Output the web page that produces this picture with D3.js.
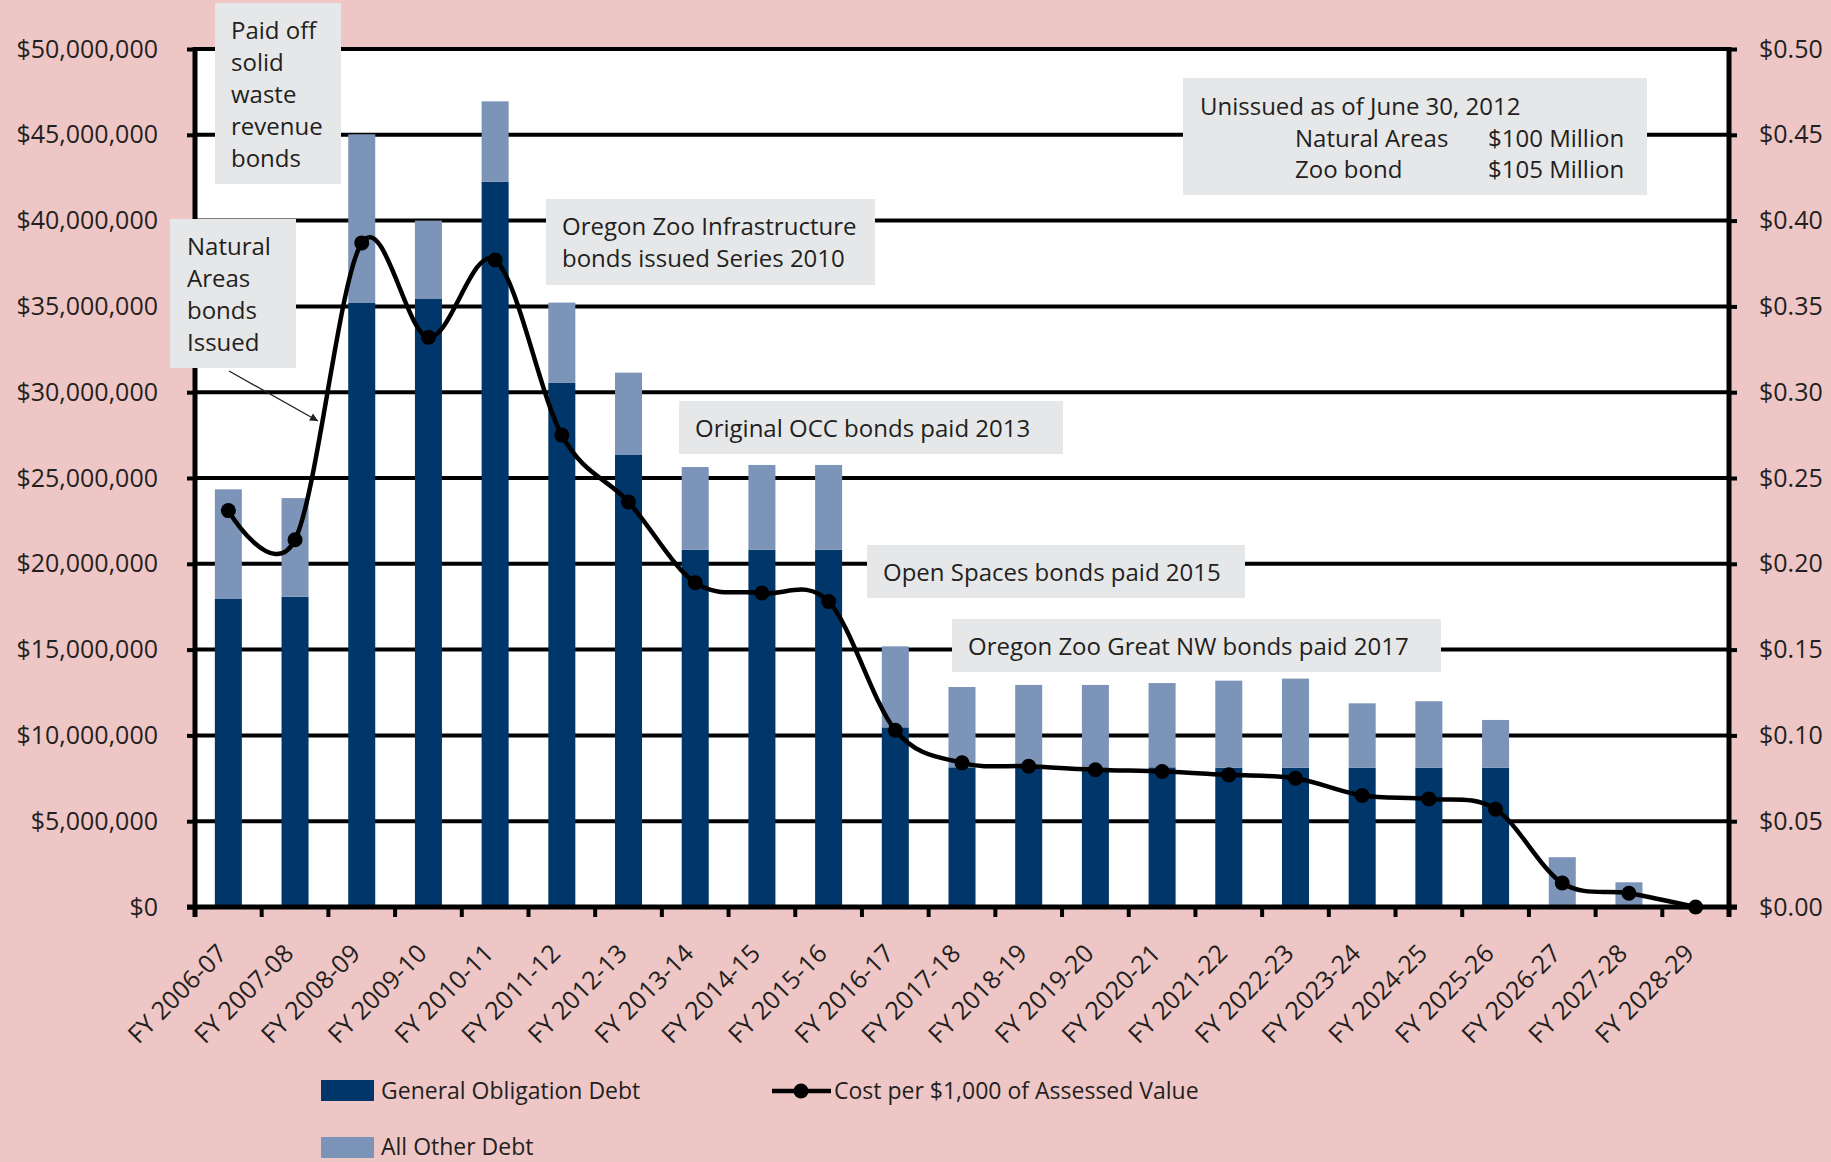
<!DOCTYPE html>
<html>
<head>
<meta charset="utf-8">
<script src="https://cdn.jsdelivr.net/npm/d3@7"></script>
<style>
  html, body { margin: 0; padding: 0; background: #EEC6C6; }
  svg { display: block; }
  text { font-family: "Open Sans", "Noto Sans", sans-serif; fill: #231F20; }
</style>
</head>
<body>
<svg id="chart" width="1831" height="1162"></svg>
<script>
// ---- data -------------------------------------------------------------
const categories = [
  "FY 2006-07", "FY 2007-08", "FY 2008-09", "FY 2009-10", "FY 2010-11",
  "FY 2011-12", "FY 2012-13", "FY 2013-14", "FY 2014-15", "FY 2015-16",
  "FY 2016-17", "FY 2017-18", "FY 2018-19", "FY 2019-20", "FY 2020-21",
  "FY 2021-22", "FY 2022-23", "FY 2023-24", "FY 2024-25", "FY 2025-26",
  "FY 2026-27", "FY 2027-28", "FY 2028-29"
];

// General obligation debt service, dollars
const generalObligation = [
  17950000, 18080000, 35200000, 35430000, 42270000,
  30540000, 26340000, 20820000, 20820000, 20820000,
  10470000, 8140000, 8140000, 8140000, 8140000,
  8120000, 8120000, 8120000, 8120000, 8120000,
  0, 0, 0
];

// All other debt service, dollars
const otherDebt = [
  6390000, 5750000, 9830000, 4570000, 4680000,
  4680000, 4800000, 4820000, 4940000, 4940000,
  4720000, 4680000, 4800000, 4800000, 4910000,
  5070000, 5190000, 3750000, 3870000, 2780000,
  2900000, 1440000, 0
];

// Cost per $1,000 of assessed value, dollars
const costPerThousand = [
  0.231, 0.214, 0.387, 0.332, 0.377,
  0.275, 0.236, 0.189, 0.183, 0.178,
  0.103, 0.084, 0.082, 0.080, 0.079,
  0.077, 0.075, 0.065, 0.063, 0.057,
  0.014, 0.008, 0.000
];

const leftTicks = [0, 5000000, 10000000, 15000000, 20000000, 25000000,
                   30000000, 35000000, 40000000, 45000000, 50000000];
const rightTicks = [0, 0.05, 0.10, 0.15, 0.20, 0.25, 0.30, 0.35, 0.40, 0.45, 0.50];

const seriesNames = ["General Obligation Debt", "All Other Debt",
                     "Cost per $1,000 of Assessed Value"];

const notes = [
  ["Paid off", "solid", "waste", "revenue", "bonds"],
  ["Natural", "Areas", "bonds", "Issued"],
  ["Oregon Zoo Infrastructure", "bonds issued Series 2010"],
  ["Original OCC bonds paid 2013"],
  ["Open Spaces bonds paid 2015"],
  ["Oregon Zoo Great NW bonds paid 2017"]
];
const unissued = {
  title: "Unissued as of June 30, 2012",
  rows: [["Natural Areas", "$100 Million"], ["Zoo bond", "$105 Million"]]
};

// ---- layout -----------------------------------------------------------
const W = 1831, H = 1162;
const margin = { top: 49, right: 102, bottom: 255, left: 195 };
const plotW = W - margin.left - margin.right;
const plotH = H - margin.top - margin.bottom;

const colors = { go: "#00366A", other: "#7C94B8", line: "#000000",
                 note: "#E6E7E9", plot: "#FFFFFF" };

const svg = d3.select("#chart");

const x = d3.scaleBand()
  .domain(categories)
  .range([0, plotW])
  .paddingInner(0.595)
  .paddingOuter(0.2975);

const y = d3.scaleLinear().domain([0, 50000000]).range([plotH, 0]);
const yR = d3.scaleLinear().domain([0, 0.5]).range([plotH, 0]);

const g = svg.append("g").attr("transform", `translate(${margin.left},${margin.top})`);

// plot background
g.append("rect").attr("x", 0).attr("y", 0).attr("width", plotW).attr("height", plotH)
  .attr("fill", colors.plot);

// horizontal gridlines
g.append("g").selectAll("line").data(leftTicks).join("line")
  .attr("x1", 0).attr("x2", plotW)
  .attr("y1", d => y(d)).attr("y2", d => y(d))
  .attr("stroke", "#000").attr("stroke-width", 4);

// stacked bars
const rows = categories.map((c, i) => ({ cat: c, go: generalObligation[i], other: otherDebt[i] }));
const stacked = d3.stack().keys(["go", "other"])(rows);
const barColor = { go: colors.go, other: colors.other };

g.append("g").selectAll("g").data(stacked).join("g")
  .attr("fill", d => barColor[d.key])
  .selectAll("rect").data(d => d).join("rect")
  .attr("x", d => x(d.data.cat))
  .attr("width", x.bandwidth())
  .attr("y", d => y(d[1]))
  .attr("height", d => y(d[0]) - y(d[1]));

// left axis
const leftAxis = d3.axisLeft(y).tickValues(leftTicks).tickSize(8).tickPadding(29)
  .tickFormat(d3.format("$,"));
const la = g.append("g").call(leftAxis);
la.select(".domain").remove();
la.selectAll(".tick line").attr("stroke", "#000").attr("stroke-width", 4);
la.selectAll(".tick text").attr("font-size", 25).attr("fill", "#231F20")
  .style("font-family", "\"Open Sans\", sans-serif");

// right axis
const rightAxis = d3.axisRight(yR).tickValues(rightTicks).tickSize(8).tickPadding(22)
  .tickFormat(d3.format("$.2f"));
const ra = g.append("g").attr("transform", `translate(${plotW},0)`).call(rightAxis);
ra.select(".domain").remove();
ra.selectAll(".tick line").attr("stroke", "#000").attr("stroke-width", 4);
ra.selectAll(".tick text").attr("font-size", 25).attr("fill", "#231F20")
  .style("font-family", "\"Open Sans\", sans-serif");

// vertical axis lines
g.append("line").attr("x1", 0).attr("x2", 0).attr("y1", -2).attr("y2", plotH + 10)
  .attr("stroke", "#000").attr("stroke-width", 5);
g.append("line").attr("x1", plotW).attr("x2", plotW).attr("y1", -2).attr("y2", plotH + 10)
  .attr("stroke", "#000").attr("stroke-width", 5);

// bottom axis with ticks between categories
g.append("line").attr("x1", -8).attr("x2", plotW + 8).attr("y1", plotH).attr("y2", plotH)
  .attr("stroke", "#000").attr("stroke-width", 5);
const boundaries = categories.map(c => x(c) - (x.step() - x.bandwidth()) / 2);
g.append("g").selectAll("line").data(boundaries).join("line")
  .attr("x1", d => d).attr("x2", d => d)
  .attr("y1", plotH).attr("y2", plotH + 10)
  .attr("stroke", "#000").attr("stroke-width", 4);

g.append("g").selectAll("text").data(categories).join("text")
  .attr("transform", c => `translate(${x(c) + x.bandwidth() / 2},${plotH + 48}) rotate(-45)`)
  .attr("text-anchor", "end")
  .attr("font-size", 25)
  .text(c => c);

// annotation boxes (drawn over gridlines and axis lines)
const noteLayout = [
  { box: [20, -46, 126, 181], tx: 36, base: -10, step: 32 },
  { box: [-25, 170, 126, 149], tx: -8, base: 206, step: 32 },
  { box: [351, 150, 329, 86], tx: 367, base: 186, step: 32 },
  { box: [484, 352, 384, 53], tx: 500, base: 388, step: 32 },
  { box: [672, 496, 378, 53], tx: 688, base: 532, step: 32 },
  { box: [757, 570, 489, 53], tx: 773, base: 606, step: 32 }
];

const noteG = g.append("g");
notes.forEach((lines, i) => {
  const L = noteLayout[i];
  noteG.append("rect")
    .attr("x", L.box[0]).attr("y", L.box[1])
    .attr("width", L.box[2]).attr("height", L.box[3])
    .attr("fill", colors.note);
  lines.forEach((t, j) => {
    noteG.append("text")
      .attr("x", L.tx).attr("y", L.base + j * L.step)
      .attr("font-size", 24).text(t);
  });
});

// unissued bonds box
const uG = g.append("g");
uG.append("rect").attr("x", 988).attr("y", 29).attr("width", 464).attr("height", 117)
  .attr("fill", colors.note);
uG.append("text").attr("x", 1005).attr("y", 66).attr("font-size", 24).text(unissued.title);
unissued.rows.forEach((r, j) => {
  uG.append("text").attr("x", 1100).attr("y", 98 + j * 31).attr("font-size", 24).text(r[0]);
  uG.append("text").attr("x", 1293).attr("y", 98 + j * 31).attr("font-size", 24).text(r[1]);
});

// arrow pointing at the Natural Areas issuance
const defs = svg.append("defs");
defs.append("marker").attr("id", "arrowhead")
  .attr("viewBox", "0 0 10 10").attr("refX", 10).attr("refY", 5)
  .attr("markerWidth", 10).attr("markerHeight", 8)
  .attr("markerUnits", "userSpaceOnUse")
  .attr("orient", "auto")
  .append("path").attr("d", "M0,0 L10,5 L0,10 Z").attr("fill", "#231F20");
g.append("line")
  .attr("x1", 34).attr("y1", 322).attr("x2", 123).attr("y2", 372)
  .attr("stroke", "#231F20").attr("stroke-width", 1.3)
  .attr("marker-end", "url(#arrowhead)");

// cost per $1,000 line
const cx = c => x(c) + x.bandwidth() / 2;
const line = d3.line()
  .x((d, i) => cx(categories[i]))
  .y(d => yR(d))
  .curve(d3.curveCardinal.tension(0));

g.append("path").datum(costPerThousand)
  .attr("d", line).attr("fill", "none")
  .attr("stroke", colors.line).attr("stroke-width", 4.5);

g.append("g").selectAll("circle").data(costPerThousand).join("circle")
  .attr("cx", (d, i) => cx(categories[i]))
  .attr("cy", d => yR(d))
  .attr("r", 7.5).attr("fill", colors.line);

// legend
const lg = svg.append("g");
lg.append("rect").attr("x", 321).attr("y", 1080).attr("width", 53).attr("height", 21).attr("fill", colors.go);
lg.append("text").attr("x", 381).attr("y", 1099).attr("font-size", 23).text(seriesNames[0]);
lg.append("rect").attr("x", 321).attr("y", 1137).attr("width", 53).attr("height", 21).attr("fill", colors.other);
lg.append("text").attr("x", 381).attr("y", 1155).attr("font-size", 23).text(seriesNames[1]);
lg.append("line").attr("x1", 772).attr("x2", 831).attr("y1", 1091).attr("y2", 1091)
  .attr("stroke", "#000").attr("stroke-width", 4.5);
lg.append("circle").attr("cx", 801).attr("cy", 1091).attr("r", 7.5).attr("fill", "#000");
lg.append("text").attr("x", 834).attr("y", 1099).attr("font-size", 23).text(seriesNames[2]);
</script>
</body>
</html>
